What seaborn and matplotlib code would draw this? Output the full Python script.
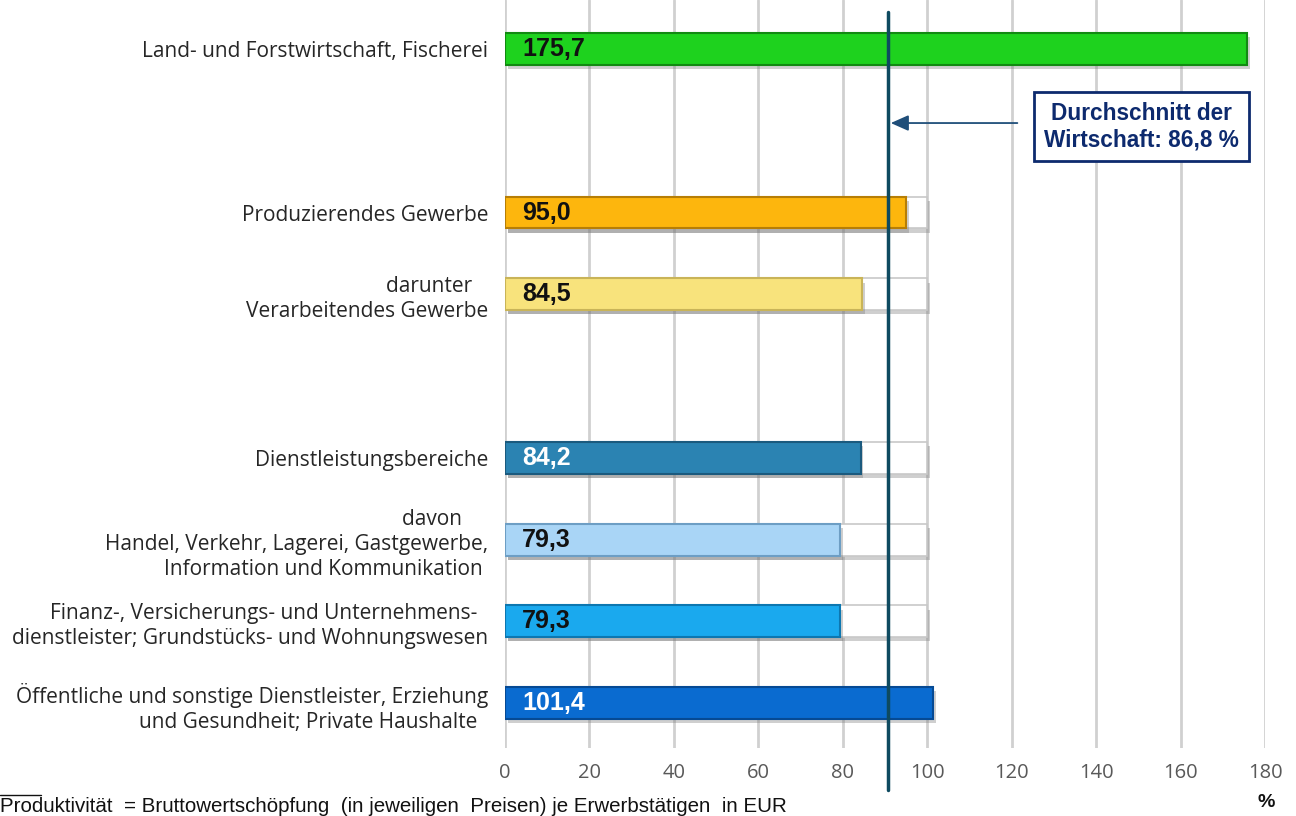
import matplotlib
matplotlib.use("Agg")
import matplotlib.pyplot as plt
import matplotlib.patheffects as pe
import seaborn as sns
import pandas as pd

categories = [
    "Land- und Forstwirtschaft, Fischerei",
    "Produzierendes Gewerbe",
    "darunter\nVerarbeitendes Gewerbe",
    "Dienstleistungsbereiche",
    "davon\nHandel, Verkehr, Lagerei, Gastgewerbe,\nInformation und Kommunikation",
    "Finanz-, Versicherungs- und Unternehmens-\ndienstleister; Grundstücks- und Wohnungswesen",
    "Öffentliche und sonstige Dienstleister, Erziehung\nund Gesundheit; Private Haushalte",
]
tick_labels = [
    "Land- und Forstwirtschaft, Fischerei",
    "Produzierendes Gewerbe",
    "darunter   \nVerarbeitendes Gewerbe",
    "Dienstleistungsbereiche",
    "davon     \nHandel, Verkehr, Lagerei, Gastgewerbe,\nInformation und Kommunikation ",
    "Finanz-, Versicherungs- und Unternehmens-  \ndienstleister; Grundstücks- und Wohnungswesen",
    "Öffentliche und sonstige Dienstleister, Erziehung\nund Gesundheit; Private Haushalte  ",
]
values = [175.7, 95.0, 84.5, 84.2, 79.3, 79.3, 101.4]
value_labels = ["175,7", "95,0", "84,5", "84,2", "79,3", "79,3", "101,4"]
average_line = 90.7
average_label = "Durchschnitt der\nWirtschaft: 86,8 %"
base_value = 100
x_ticks = [0, 20, 40, 60, 80, 100, 120, 140, 160, 180]
footnote = "Produktivität  = Bruttowertschöpfung  (in jeweiligen  Preisen) je Erwerbstätigen  in EUR"

# layout
row_pos = [0, 2, 3, 5, 6, 7, 8]
bar_colors = ["#1ed21e", "#fdb60d", "#f8e37c", "#2b83b2", "#a9d5f6", "#1aa9ee", "#0a6bd0"]
edge_colors = ["#128a12", "#b77e05", "#c9b458", "#1b5a7e", "#6d9ec4", "#0d77b0", "#064a94"]
text_colors = ["#111111", "#111111", "#111111", "#ffffff", "#111111", "#111111", "#ffffff"]
navy = "#0d2a6e"

sns.set_theme(style="white")
plt.rcParams["font.family"] = ["Open Sans", "DejaVu Sans"]

df = pd.DataFrame({"kategorie": categories, "wert": values, "pos": row_pos})
bg = df[df["wert"] < base_value].assign(basis=base_value)

fig = plt.figure(figsize=(12.96, 8.16), dpi=100)
ax = fig.add_axes([0.3897, 0.0833, 0.5864, 0.9167])

sns.barplot(data=bg, x="basis", y="pos", orient="y", native_scale=True, width=0.39,
            color="white", saturation=1, edgecolor="#c8c8c8", linewidth=1.2, ax=ax)
sns.barplot(data=df, x="wert", y="pos", hue="kategorie", hue_order=categories,
            palette=dict(zip(categories, bar_colors)), saturation=1, orient="y",
            native_scale=True, width=0.39, dodge=False, legend=False, linewidth=1.5, ax=ax)

shadow = [pe.SimplePatchShadow(offset=(2, -3), shadow_rgbFace="#777777", alpha=0.35), pe.Normal()]
for p in ax.containers[0]:
    p.set_path_effects(shadow)
for cont, ec in zip(ax.containers[1:], edge_colors):
    for p in cont:
        p.set_edgecolor(ec)
        p.set_path_effects(shadow)

for v, lab, y, c in zip(values, value_labels, row_pos, text_colors):
    ax.text(4, y, lab, ha="left", va="center", fontsize=18, fontweight="bold",
            color=c, family=["Liberation Sans", "DejaVu Sans"])

ax.set_xlim(0, 180)
ax.set_ylim(8.55, -0.6)
ax.set_xticks(x_ticks)
ax.set_xticklabels([str(t) for t in x_ticks], fontsize=14.5, color="#595959")
ax.set_yticks(row_pos)
ax.set_yticklabels(tick_labels, fontsize=15, color="#262626")
for t in ax.get_yticklabels():
    t.set_multialignment("right")
    t.set_linespacing(1.25)
ax.tick_params(axis="both", length=0)
ax.tick_params(axis="x", pad=11)
ax.tick_params(axis="y", pad=12)
ax.set_xlabel("")
ax.set_ylabel("")
ax.set_axisbelow(True)
ax.grid(axis="x", color="#d0d0d0", linewidth=2)
ax.grid(axis="y", visible=False)
sns.despine(ax=ax, left=True, bottom=True)

# average line
ax.plot([average_line, average_line], [0.984, -0.056], color="#0e4a60", linewidth=2.5,
        transform=ax.get_xaxis_transform(), clip_on=False, zorder=5)
ax.annotate("", xy=(average_line, 0.905), xytext=(122, 0.905),
            arrowprops=dict(arrowstyle="-|>,head_length=0.9,head_width=0.4",
                            color="#1f4e79", lw=1.3), zorder=6)
ax.text(150.7, 0.95, average_label, ha="center", va="center", fontsize=16.3,
        fontweight="bold", color=navy, linespacing=1.15,
        family=["Liberation Sans", "DejaVu Sans"],
        bbox=dict(boxstyle="square,pad=0.45", facecolor="white", edgecolor=navy, linewidth=2),
        zorder=7)

fig.text(0.0, 0.012, footnote, ha="left", va="center", fontsize=14.8, color="#111111",
         family=["Liberation Sans", "DejaVu Sans"])
fig.add_artist(plt.Line2D([0.0, 0.032], [0.026, 0.026], color="#111111", linewidth=1,
                          transform=fig.transFigure))
fig.text(0.977, 0.016, "%", ha="center", va="center", fontsize=14, fontweight="bold",
         color="#111111", family=["Liberation Sans", "DejaVu Sans"])

fig.savefig("out.png", dpi=100)
